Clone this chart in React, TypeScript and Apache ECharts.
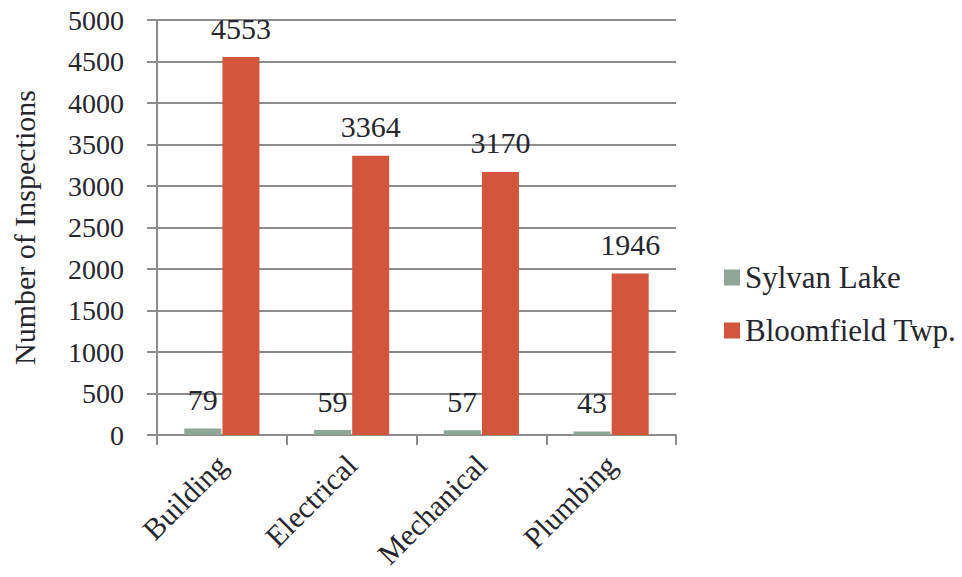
import React, { useEffect, useRef } from "react";
import * as echarts from "echarts";

const categories = ["Building", "Electrical", "Mechanical", "Plumbing"];
const sylvanLake = [79, 59, 57, 43];
const bloomfield = [4553, 3364, 3170, 1946];
const seriesNames = ["Sylvan Lake", "Bloomfield Twp."];

const FONT = "Liberation Serif";
const TEXT = "#26262e";
const AXIS = "#8c8c8c";

export default function App() {
  const ref = useRef<HTMLDivElement>(null);
  useEffect(() => {
    const chart = echarts.init(ref.current!, null, { renderer: "svg" });
    const valueLabel = {
      show: true,
      position: "top",
      distance: 14,
      fontFamily: FONT,
      fontSize: 30,
      color: TEXT,
    };
    chart.setOption({
      animation: false,
      backgroundColor: "#ffffff",
      textStyle: { fontFamily: FONT, color: TEXT },
      grid: {
        left: 157,
        right: 286,
        top: 20,
        bottom: 142,
        containLabel: false,
        outerBoundsMode: "none",
      },
      legend: {
        orient: "vertical",
        left: 719,
        top: 257,
        itemWidth: 16,
        itemHeight: 16,
        itemGap: 22,
        icon: "rect",
        textStyle: { fontFamily: FONT, fontSize: 31, color: TEXT },
        data: seriesNames,
      },
      xAxis: {
        type: "category",
        data: categories,
        axisLine: { show: true, lineStyle: { color: AXIS, width: 2 } },
        axisTick: { show: true, length: 10, alignWithLabel: false, lineStyle: { color: AXIS, width: 2 } },
        axisLabel: {
          rotate: 45,
          fontFamily: FONT,
          fontSize: 30,
          color: TEXT,
          margin: 25,
          interval: 0,
        },
      },
      yAxis: {
        type: "value",
        min: 0,
        max: 5000,
        interval: 500,
        name: "Number of Inspections",
        nameLocation: "middle",
        nameGap: 118,
        nameTextStyle: { fontFamily: FONT, fontSize: 30, color: TEXT },
        axisLine: { show: true, lineStyle: { color: AXIS, width: 2 } },
        axisTick: { show: true, length: 10, lineStyle: { color: AXIS, width: 2 } },
        axisLabel: {
          fontFamily: FONT,
          fontSize: 28,
          color: TEXT,
          margin: 33,
          formatter: (v: number) => String(v),
        },
        splitLine: { show: true, lineStyle: { color: AXIS, width: 2 } },
      },
      series: [
        {
          name: seriesNames[0],
          type: "bar",
          data: sylvanLake,
          barWidth: 37,
          barGap: "3%",
          itemStyle: { color: "#8fa699" },
          label: valueLabel,
        },
        {
          name: seriesNames[1],
          type: "bar",
          data: bloomfield,
          barWidth: 37,
          barGap: "3%",
          itemStyle: { color: "#d3553c" },
          label: valueLabel,
        },
      ],
    });
    return () => chart.dispose();
  }, []);
  return (
    <div
      ref={ref}
      style={{ position: "fixed", left: 0, top: 0, width: 962, height: 577, background: "#fff" }}
    />
  );
}
